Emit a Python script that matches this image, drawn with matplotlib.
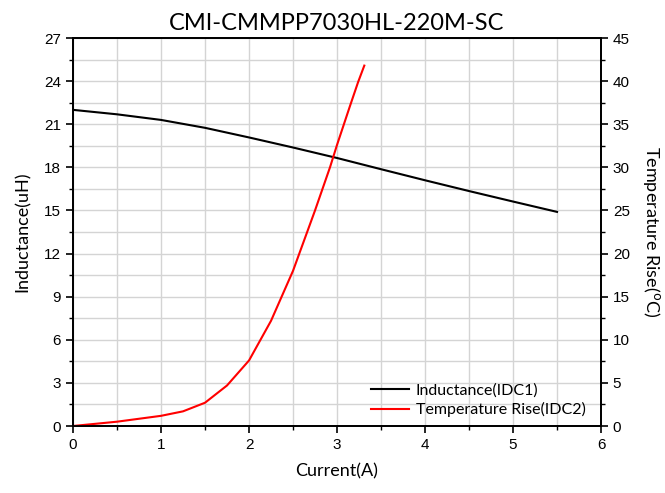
import numpy as np
import matplotlib
matplotlib.use("Agg")
import matplotlib.pyplot as plt
from matplotlib.ticker import MultipleLocator

# inductance curve (IDC1)
ind_current = [0, 0.5, 1.0, 1.5, 2.0, 2.5, 3.0, 3.5, 4.0, 4.5, 5.0, 5.5]
ind_value = [22.0, 21.69, 21.30, 20.75, 20.08, 19.38, 18.65, 17.87, 17.10, 16.35, 15.62, 14.9]

# temperature rise curve (IDC2)
temp_current = [0, 0.5, 1.0, 1.25, 1.5, 1.75, 2.0, 2.25, 2.5, 2.75, 2.92, 3.0, 3.15, 3.24, 3.31]
temp_value = [0, 0.5, 1.18, 1.7, 2.7, 4.7, 7.6, 12.2, 18.0, 25.0, 30.0, 32.6, 37.2, 39.9, 41.8]

title = "CMI-CMMPP7030HL-220M-SC"

plt.rcParams['font.family'] = ['Liberation Sans', 'DejaVu Sans']
label_font = ['Lato', 'DejaVu Sans']

fig = plt.figure(figsize=(6.65, 4.93), dpi=100)
ax = fig.add_axes([0.1098, 0.1359, 0.7940, 0.7870])
ax2 = ax.twinx()

l1, = ax.plot(ind_current, ind_value, color="black", lw=1.5, label="Inductance(IDC1)")
l2, = ax2.plot(temp_current, temp_value, color="#ff0000", lw=1.5, label="Temperature Rise(IDC2)")

ax.set_xlim(0, 6)
ax.set_ylim(0, 27)
ax2.set_ylim(0, 45)

ax.xaxis.set_major_locator(MultipleLocator(1))
ax.xaxis.set_minor_locator(MultipleLocator(0.5))
ax.yaxis.set_major_locator(MultipleLocator(3))
ax.yaxis.set_minor_locator(MultipleLocator(1.5))
ax2.yaxis.set_major_locator(MultipleLocator(5))
ax2.yaxis.set_minor_locator(MultipleLocator(2.5))

ax.grid(which="both", color="#d4d4d4", lw=1.0)
ax.set_axisbelow(True)

for a in (ax, ax2):
    a.tick_params(which="major", direction="out", length=5, width=1.2, labelsize=11, colors="black")
    a.tick_params(which="minor", direction="out", length=3, width=1.0)
    for s in a.spines.values():
        s.set_linewidth(1.3)

ax.set_xlabel("Current(A)", fontsize=13, family=label_font, labelpad=8)
ax.set_ylabel("Inductance(uH)", fontsize=13, family=label_font, labelpad=10)
ax2.set_ylabel("Temperature Rise($^{\\rm o}$C)", fontsize=13, family=label_font,
               rotation=-90, va="bottom", labelpad=8)
ax.set_title(title, fontsize=17, family=label_font, pad=6)

leg = ax.legend(handles=[l1, l2], loc="lower right", bbox_to_anchor=(0.995, -0.01),
                frameon=False, handlelength=2.4, handletextpad=0.4, borderpad=0.3,
                labelspacing=0.25, prop={'family': label_font, 'size': 11.5})

fig.savefig("out.png", dpi=100)
